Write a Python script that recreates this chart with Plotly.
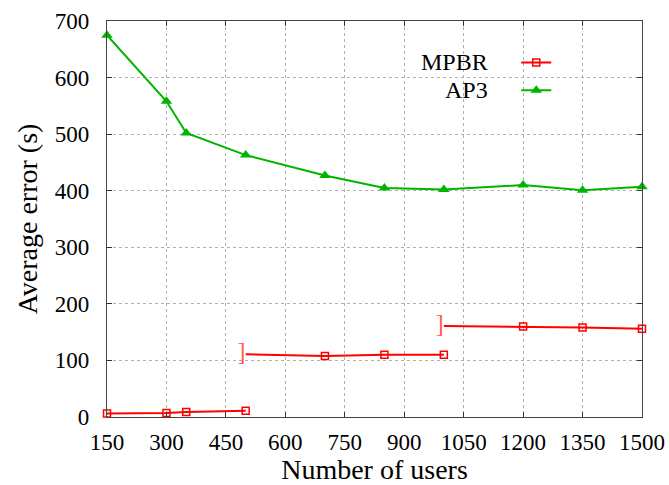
import plotly.graph_objects as go

# ---- data ----
x_ticks = [150, 300, 450, 600, 750, 900, 1050, 1200, 1350, 1500]
y_ticks = [0, 100, 200, 300, 400, 500, 600, 700]

mpbr_seg1_x = [150, 300, 350, 500]
mpbr_seg1_y = [6, 7, 9, 11]
mpbr_seg2_x = [500, 700, 850, 1000]
mpbr_seg2_y = [111, 108, 110, 110]
mpbr_seg3_x = [1000, 1200, 1350, 1500]
mpbr_seg3_y = [161, 160, 158, 156]

ap3_x = [150, 300, 350, 500, 700, 850, 1000, 1200, 1350, 1500]
ap3_y = [675, 558, 502, 463, 427, 405, 402, 410, 401, 407]

RED = "#ff0000"
GREEN = "#00b400"
FONT = "Times New Roman, Liberation Serif, serif"

# build MPBR trace with gaps between segments
mx, my, mcol = [], [], []
segs = [(mpbr_seg1_x, mpbr_seg1_y), (mpbr_seg2_x, mpbr_seg2_y), (mpbr_seg3_x, mpbr_seg3_y)]
bracket_x, bracket_y = [], []
for i, (sx, sy) in enumerate(segs):
    if i > 0:
        mx.append(None); my.append(None); mcol.append("rgba(0,0,0,0)")
        bracket_x.append(sx[0]); bracket_y.append(sy[0])
    for j, (a, b) in enumerate(zip(sx, sy)):
        mx.append(a); my.append(b)
        mcol.append("rgba(0,0,0,0)" if (i > 0 and j == 0) else RED)

fig = go.Figure()

fig.add_trace(go.Scatter(
    x=mx, y=my, mode="lines+markers", name=" ",
    line=dict(color=RED, width=2),
    marker=dict(symbol="square-open", size=7, color=mcol, line=dict(width=1.5)),
    connectgaps=False, cliponaxis=False,
))
fig.add_trace(go.Scatter(
    x=ap3_x, y=ap3_y, mode="lines+markers", name="  ",
    line=dict(color=GREEN, width=2),
    marker=dict(symbol="triangle-up", size=10, color=GREEN),
    cliponaxis=False,
))
fig.add_trace(go.Scatter(
    x=bracket_x, y=bracket_y, mode="text", text=["]"] * len(bracket_x),
    textposition="middle left",
    textfont=dict(family=FONT, size=25, color="rgba(255,60,60,0.85)"),
    showlegend=False, hoverinfo="skip",
))

axis_common = dict(
    showline=True, linecolor="#444", linewidth=1.2, mirror="ticks",
    ticks="inside", ticklen=5, tickcolor="#333",
    showgrid=True, gridcolor="#b0b0b0", griddash="dot", gridwidth=1,
    zeroline=False, automargin=False,
    tickfont=dict(family=FONT, size=23, color="black"),
)

fig.update_layout(
    width=669, height=485,
    margin=dict(l=107, r=27, t=21, b=68),
    paper_bgcolor="white", plot_bgcolor="white",
    font=dict(family=FONT, color="black"),
    xaxis=dict(range=[150, 1500], tickvals=x_ticks,
               title=dict(text="Number of users", font=dict(family=FONT, size=28), standoff=2),
               ticklabelstandoff=4, **axis_common),
    yaxis=dict(range=[0, 700], tickvals=y_ticks,
               title=dict(text="Average error (s)", font=dict(family=FONT, size=28), standoff=8),
               ticklabelstandoff=12, **axis_common),
    showlegend=True,
    legend=dict(x=0.765, y=0.9425, xanchor="left", yanchor="top",
                bgcolor="rgba(0,0,0,0)", font=dict(family=FONT, size=19),
                itemwidth=30, tracegroupgap=0),
    annotations=[
        dict(xref="paper", yref="paper", x=0.716, y=0.8965, xanchor="right", yanchor="middle",
             text="MPBR", showarrow=False, font=dict(family=FONT, size=24, color="black")),
        dict(xref="paper", yref="paper", x=0.716, y=0.826, xanchor="right", yanchor="middle",
             text="AP3", showarrow=False, font=dict(family=FONT, size=24, color="black")),
    ],
)

fig.write_html("out.html")
